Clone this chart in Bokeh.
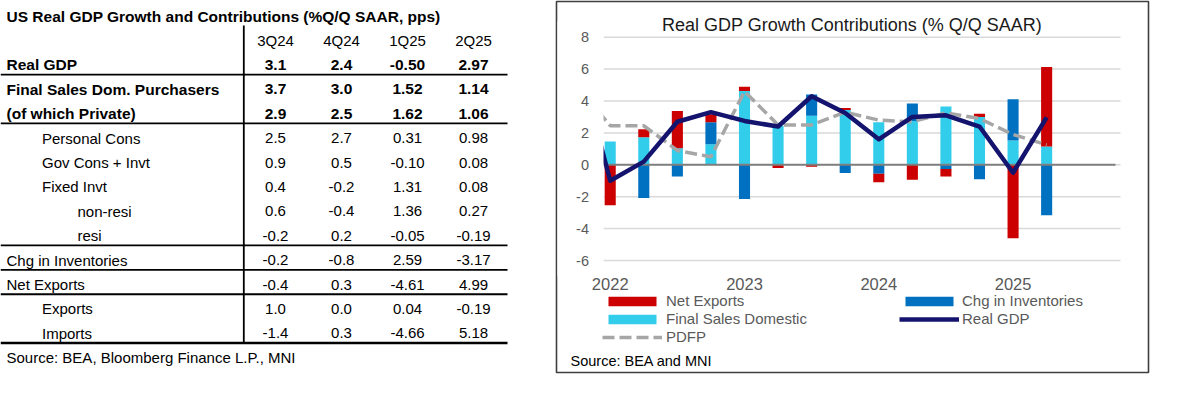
import numpy as np
from bokeh.plotting import figure
from bokeh.models import Range1d, Legend, LegendItem, ColumnDataSource
from bokeh.layouts import row
from bokeh.core.properties import value
from bokeh.embed import file_html
from bokeh.resources import INLINE

FONT = "Liberation Sans"

# ---------------- chart data ----------------
quarters = ["1Q22", "2Q22", "3Q22", "4Q22", "1Q23", "2Q23", "3Q23", "4Q23",
            "1Q24", "2Q24", "3Q24", "4Q24", "1Q25", "2Q25"]
year_ticks = [0, 4, 8, 12]
year_labels = ["2022", "2023", "2024", "2025"]
y_ticks = [-6, -4, -2, 0, 2, 4, 6, 8]
final_sales_domestic = [1.46, 1.73, 1.04, 1.29, 4.63, 2.45, 3.08, 3.44, 2.67, 2.75, 3.65, 3.00, 1.52, 1.14]
chg_inventories = [0.0, -2.08, -0.73, 1.38, -2.15, 0.0, 1.33, -0.52, -0.56, 1.10, -0.27, -0.90, 2.59, -3.17]
net_exports = [-2.54, 0.50, 2.33, 0.50, 0.27, -0.20, -0.12, 0.12, -0.54, -0.94, -0.46, 0.20, -4.61, 4.99]
# the two lines start one quarter earlier (4Q21); that point is cut off by the axis
line_quarters = ["4Q21"] + quarters
real_gdp = [7.0, -1.0, 0.2, 2.7, 3.3, 2.75, 2.4, 4.3, 3.25, 1.6, 3.0, 3.1, 2.4, -0.5, 2.97]
pdfp = [5.0, 2.45, 2.45, 0.9, 0.5, 4.6, 2.5, 2.5, 3.3, 2.8, 2.7, 3.25, 2.9, 1.9, 1.25]

# ---------------- table data ----------------
table_title = "US Real GDP Growth and Contributions (%Q/Q SAAR, pps)"
table_cols = ["3Q24", "4Q24", "1Q25", "2Q25"]
col_decimals = [1, 1, 2, 2]
row_labels = ["Real GDP", "Final Sales Dom. Purchasers", "(of which Private)", "Personal Cons",
              "Gov Cons + Invt", "Fixed Invt", "non-resi", "resi", "Chg in Inventories",
              "Net Exports", "Exports", "Imports"]
row_indent = [0, 0, 0, 1, 1, 1, 2, 2, 0, 0, 1, 1]
row_bold = [True, True, True, False, False, False, False, False, False, False, False, False]
rule_after_rows = [0, 2, 7, 8, 9, 11]
vals_3q24 = [3.1, 3.7, 2.9, 2.5, 0.9, 0.4, 0.6, -0.2, -0.2, -0.4, 1.0, -1.4]
vals_4q24 = [2.4, 3.0, 2.5, 2.7, 0.5, -0.2, -0.4, 0.2, -0.8, 0.3, 0.0, 0.3]
vals_1q25 = [-0.50, 1.52, 1.62, 0.31, -0.10, 1.31, 1.36, -0.05, 2.59, -4.61, 0.04, -4.66]
vals_2q25 = [2.97, 1.14, 1.06, 0.98, 0.08, 0.08, 0.27, -0.19, -3.17, 4.99, -0.19, 5.18]
table_source = "Source: BEA, Bloomberg Finance L.P., MNI"

# common vertical layout (both figures share the same frame top/bottom)
FIG_H = 374
B_TOP, B_BOT = 1, 2
FR_TOP, FR_BOT = B_TOP, FIG_H - B_BOT          # frame in page pixels

# ================= TABLE FIGURE =================
ROW_H = 24.4
HEADER_Y = 40.0
T_W = 555
i_top = (FR_TOP - HEADER_Y) / ROW_H
i_bot = (FR_BOT - HEADER_Y) / ROW_H
t = figure(width=T_W, height=FIG_H, x_range=Range1d(0, T_W), y_range=Range1d(i_bot, i_top),
           output_backend="svg", toolbar_location=None, x_axis_type=None, y_axis_type=None,
           min_border_left=0, min_border_right=0, min_border_top=B_TOP, min_border_bottom=B_BOT)
t.grid.visible = False
t.outline_line_color = None
t.background_fill_color = "white"
t.border_fill_color = "white"

col_x = [275 + 66 * j for j in range(len(table_cols))]
all_vals = [vals_3q24, vals_4q24, vals_1q25, vals_2q25]

t.text(x=[6], y=[-1], text=[table_title], text_font=value(FONT), text_font_size="15.5px",
       text_font_style="bold", text_baseline="middle", text_align="left", text_color="black")
t.text(x=col_x, y=[0] * len(col_x), text=table_cols, text_font=value(FONT), text_font_size="15px",
       text_baseline="middle", text_align="center", text_color="black")
for bold in (True, False):
    xs, ys, txt = [], [], []
    vx, vy, vt = [], [], []
    for r, lab in enumerate(row_labels):
        if row_bold[r] != bold:
            continue
        xs.append(6 + 35.5 * row_indent[r]); ys.append(r + 1); txt.append(lab)
        for j in range(len(table_cols)):
            vx.append(col_x[j]); vy.append(r + 1)
            vt.append(f"{all_vals[j][r]:.{col_decimals[j]}f}")
    style = "bold" if bold else "normal"
    size = "15.5px" if bold else "15px"
    t.text(x=xs, y=ys, text=txt, text_font=value(FONT), text_font_size=size, text_font_style=style,
           text_baseline="middle", text_align="left", text_color="black")
    t.text(x=vx, y=vy, text=vt, text_font=value(FONT), text_font_size=size, text_font_style=style,
           text_baseline="middle", text_align="center", text_color="black")
rule_y = [r + 1 + 0.4 for r in rule_after_rows]
rule_w = [2.6 if r == len(row_labels) - 1 else 1.8 for r in rule_after_rows]
t.segment(x0=[0] * len(rule_y), x1=[507] * len(rule_y), y0=rule_y, y1=rule_y,
          line_color="black", line_width=rule_w)
t.segment(x0=[243.3], x1=[243.3], y0=[-0.615], y1=[len(row_labels) + 0.4],
          line_color="black", line_width=1.8)
t.text(x=[6], y=[len(row_labels) + 1], text=[table_source], text_font=value(FONT),
       text_font_size="15px", text_baseline="middle", text_align="left", text_color="black")

# ================= CHART FIGURE =================
C_W = 595
C_LEFT = T_W                       # page x of chart figure
FR_L, FR_R = C_LEFT + 1, C_LEFT + C_W - 2   # frame = chart box
# plot area (page px) and its data extent
PA_L, PA_R, PA_T, PA_B = 603.0, 1120.0, 36.7, 260.0
X_MIN, X_MAX = -0.2, 15.2
Y_MIN, Y_MAX = -6.0, 8.0
sx = (PA_R - PA_L) / (X_MAX - X_MIN)
sy = (PA_B - PA_T) / (Y_MAX - Y_MIN)
def px_x(px):
    return X_MIN + (px - PA_L) / sx
def px_y(py):
    return Y_MAX - (py - PA_T) / sy

p = figure(width=C_W, height=FIG_H,
           x_range=Range1d(px_x(FR_L), px_x(FR_R)), y_range=Range1d(px_y(FR_BOT), px_y(FR_TOP)),
           output_backend="svg", toolbar_location=None, x_axis_type=None, y_axis_type=None,
           min_border_left=1, min_border_right=2, min_border_top=B_TOP, min_border_bottom=B_BOT)
p.grid.visible = False
p.background_fill_color = "white"
p.border_fill_color = "white"
p.outline_line_color = "#3F3F3F"
p.outline_line_width = 1.6

# horizontal gridlines
p.segment(x0=[X_MIN] * len(y_ticks), x1=[X_MAX] * len(y_ticks), y0=y_ticks, y1=y_ticks,
          line_color="#D9D9D9", line_width=1.5)

n = len(quarters)
x = np.arange(n)
lx = np.arange(-1, n)
series = [("Final Sales Domestic", final_sales_domestic, "#33CDEC"),
          ("Chg in Inventories", chg_inventories, "#0070C0"),
          ("Net Exports", net_exports, "#CC0000")]
pos = np.zeros(n)
neg = np.zeros(n)
bars = {}
for name, vals, col in series:
    v = np.array(vals, dtype=float)
    bottom = np.where(v >= 0, pos, neg)
    top = bottom + v
    pos = np.where(v >= 0, pos + v, pos)
    neg = np.where(v < 0, neg + v, neg)
    src = ColumnDataSource(dict(x=x, bottom=bottom, top=top))
    bars[name] = p.vbar(x="x", bottom="bottom", top="top", width=0.33, source=src,
                        fill_color=col, line_color=None)

# zero line
p.segment(x0=[X_MIN], x1=[px_x(1115)], y0=[0], y1=[0], line_color="#7F7F7F", line_width=2)

r_pdfp = p.line(lx, pdfp, line_color="#A6A6A6", line_width=3.5, line_dash="12 5")
r_gdp = p.line(lx, real_gdp, line_color="#14146E", line_width=4.5, line_join="round")

# the plot area starts at X_MIN: hide what the lines draw left of it
p.quad(left=[px_x(FR_L + 1)], right=[X_MIN], bottom=[Y_MIN - 1], top=[Y_MAX + 1],
       fill_color="white", line_color=None)

# axis labels
p.text(x=[px_x(588.5)] * len(y_ticks), y=y_ticks, text=[str(v) for v in y_ticks],
       text_font=value(FONT), text_font_size="14.5px", text_color="#595959",
       text_align="right", text_baseline="middle")
p.text(x=year_ticks, y=[px_y(283)] * len(year_ticks), text=year_labels,
       text_font=value(FONT), text_font_size="16.5px", text_color="#595959",
       text_align="center", text_baseline="middle")
# title and source
p.text(x=[px_x(851.5)], y=[px_y(24)], text=["Real GDP Growth Contributions (% Q/Q SAAR)"],
       text_font=value(FONT), text_font_size="18px", text_color="#1A1A1A",
       text_align="center", text_baseline="middle")
p.text(x=[px_x(570)], y=[px_y(360)], text=["Source: BEA and MNI"],
       text_font=value(FONT), text_font_size="14.5px", text_color="black",
       text_align="left", text_baseline="middle")

def style_legend(lg, standoff):
    lg.glyph_width = 60
    lg.glyph_height = 12
    lg.label_standoff = standoff
    lg.label_text_font = FONT
    lg.label_text_font_size = "15px"
    lg.label_text_color = "#595959"
    lg.label_height = 17
    lg.spacing = 1
    lg.padding = 0
    lg.margin = 0
    lg.border_line_color = None
    lg.background_fill_alpha = 0

leg_top = 300.7 - 8.5
leg_a = Legend(items=[LegendItem(label="Net Exports", renderers=[bars["Net Exports"]]),
                      LegendItem(label="Final Sales Domestic", renderers=[bars["Final Sales Domestic"]]),
                      LegendItem(label="PDFP", renderers=[r_pdfp])],
               location=(int(round(601.5 - FR_L)), int(round(FR_BOT - (leg_top + 3 * 17 + 2)))))
leg_b = Legend(items=[LegendItem(label="Chg in Inventories", renderers=[bars["Chg in Inventories"]]),
                      LegendItem(label="Real GDP", renderers=[r_gdp])],
               location=(int(round(899 - FR_L)), int(round(FR_BOT - (leg_top + 2 * 17 + 1)))))
style_legend(leg_a, 4)
style_legend(leg_b, 3)
p.add_layout(leg_a)
p.add_layout(leg_b)

layout = row(t, p)
open("out.html", "w").write(file_html(layout, INLINE))
